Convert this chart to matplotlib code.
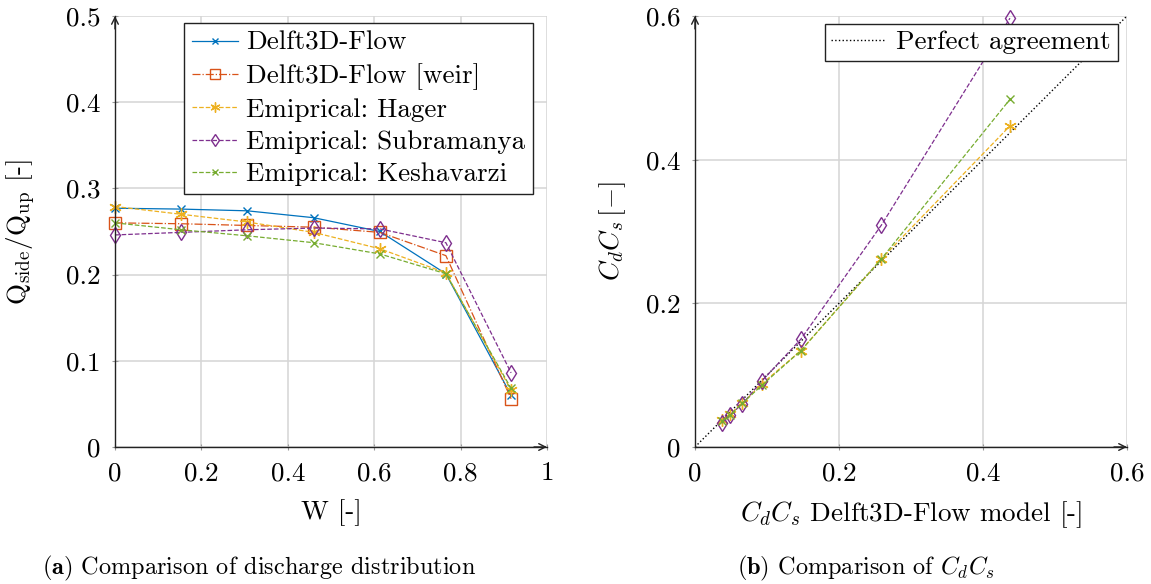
import numpy as np
import matplotlib
matplotlib.use("Agg")
import matplotlib.pyplot as plt

plt.rcParams['font.family'] = 'cmr10'
plt.rcParams['mathtext.fontset'] = 'cm'
plt.rcParams['axes.formatter.use_mathtext'] = True
plt.rcParams['font.size'] = 19.5

# dane - lewy wykres (rozklad przeplywu)
W = [0, 0.153, 0.306, 0.46, 0.613, 0.766, 0.917]
delft = [0.277, 0.276, 0.274, 0.266, 0.250, 0.201, 0.060]
weir = [0.260, 0.259, 0.257, 0.255, 0.249, 0.222, 0.056]
hager = [0.279, 0.270, 0.261, 0.249, 0.230, 0.202, 0.066]
subra = [0.246, 0.249, 0.252, 0.254, 0.253, 0.237, 0.086]
kesh = [0.260, 0.252, 0.245, 0.237, 0.224, 0.201, 0.068]

# dane - prawy wykres (CdCs)
cdcs_model = [0.037, 0.049, 0.066, 0.093, 0.147, 0.259, 0.4375]
hager_cdcs = [0.038, 0.046, 0.061, 0.088, 0.134, 0.262, 0.447]
subra_cdcs = [0.033, 0.045, 0.060, 0.092, 0.150, 0.309, 0.597]
kesh_cdcs = [0.036, 0.045, 0.061, 0.086, 0.134, 0.262, 0.484]
perfect = [0, 0.6]

blue = '#0072BD'
orange = '#D95319'
yellow = '#EDB120'
purple = '#7E2F8E'
green = '#77AC30'

asterisk = (6, 2, 0)

fig = plt.figure(figsize=(11.51, 5.84), dpi=100)
ax1 = fig.add_axes([0.0999, 0.2346, 0.3753, 0.738])
ax2 = fig.add_axes([0.6038, 0.2346, 0.3753, 0.738])


def styl_osi(ax, xmax, ymax, xt, yt):
    ax.set_xlim(0, xmax)
    ax.set_ylim(0, ymax)
    ax.set_xticks(xt)
    ax.set_yticks(yt)
    ax.set_xticklabels(['%g' % t for t in xt])
    ax.set_yticklabels(['%g' % t for t in yt])
    ax.grid(True, color='#d5d5d5', lw=1.1)
    ax.set_axisbelow(True)
    for s in ['top', 'right']:
        ax.spines[s].set_visible(False)
    for s in ['left', 'bottom']:
        ax.spines[s].set_color('#222222')
        ax.spines[s].set_linewidth(1.0)
        ax.spines[s].set_zorder(5)
    ax.tick_params(direction='inout', length=5, color='#999999', pad=8)
    # strzalki na koncach osi
    ax.annotate('', xy=(1.0, 0), xytext=(0.97, 0), xycoords='axes fraction',
                arrowprops=dict(arrowstyle='->', color='#222222', lw=1.0,
                                shrinkA=0, shrinkB=0, mutation_scale=12))
    ax.annotate('', xy=(0, 1.0), xytext=(0, 0.97), xycoords='axes fraction',
                arrowprops=dict(arrowstyle='->', color='#222222', lw=1.0,
                                shrinkA=0, shrinkB=0, mutation_scale=12))


styl_osi(ax1, 1, 0.5, [0, 0.2, 0.4, 0.6, 0.8, 1], [0, 0.1, 0.2, 0.3, 0.4, 0.5])
styl_osi(ax2, 0.6, 0.6, [0, 0.2, 0.4, 0.6], [0, 0.2, 0.4, 0.6])

lw = 0.9
ax1.plot(W, delft, '-', color=blue, marker='x', ms=6, mew=1.0, lw=lw, label='Delft3D-Flow', clip_on=False)
ax1.plot(W, weir, '-.', color=orange, marker='s', ms=9, mfc='none', mew=1.0, lw=lw, label='Delft3D-Flow [weir]', clip_on=False)
ax1.plot(W, hager, '--', color=yellow, marker=asterisk, ms=9, mew=1.0, lw=lw, label='Emiprical: Hager', clip_on=False)
ax1.plot(W, subra, '--', color=purple, marker='d', ms=8, mfc='none', mew=1.0, lw=lw, label='Emiprical: Subramanya', clip_on=False)
ax1.plot(W, kesh, '--', color=green, marker='x', ms=6, mew=1.0, lw=lw, label='Emiprical: Keshavarzi', clip_on=False)

leg1 = ax1.legend(loc='upper right', bbox_to_anchor=(0.968, 0.984), frameon=True, fancybox=False,
                  edgecolor='#222222', framealpha=1, handlelength=1.7, handletextpad=0.3,
                  borderpad=0.3, labelspacing=0.3, borderaxespad=0, markerscale=0.8)
leg1.get_frame().set_linewidth(1.0)

ax1.set_xlabel('W [-]', labelpad=10)
ax1.set_ylabel(r'$\mathrm{Q_{side}/Q_{up}}$ [-]', labelpad=20)

ax2.plot(perfect, perfect, ':', color='black', lw=1.0, label='Perfect agreement')
ax2.plot(cdcs_model, hager_cdcs, '--', color=yellow, marker=asterisk, ms=9, mew=1.0, lw=lw, clip_on=False)
ax2.plot(cdcs_model, subra_cdcs, '--', color=purple, marker='d', ms=8, mfc='none', mew=1.0, lw=lw, clip_on=False)
ax2.plot(cdcs_model, kesh_cdcs, '--', color=green, marker='x', ms=6, mew=1.0, lw=lw, clip_on=False)

leg2 = ax2.legend(loc='upper right', bbox_to_anchor=(0.979, 0.982), frameon=True, fancybox=False,
                  edgecolor='#222222', framealpha=1, handlelength=2.0, handletextpad=0.4,
                  borderpad=0.25, borderaxespad=0)
leg2.get_frame().set_linewidth(1.0)

ax2.set_xlabel(r'$C_dC_s$ Delft3D-Flow model [-]', labelpad=10)
ax2.set_ylabel(r'$C_dC_s\,[-]$', labelpad=13)

fig.text(0.225, 0.027, r'$\mathbf{(a)}$ Comparison of discharge distribution', ha='center', va='center', fontsize=17.5)
fig.text(0.752, 0.027, r'$\mathbf{(b)}$ Comparison of $C_dC_s$', ha='center', va='center', fontsize=17.5)

plt.savefig('out.png', dpi=100)
